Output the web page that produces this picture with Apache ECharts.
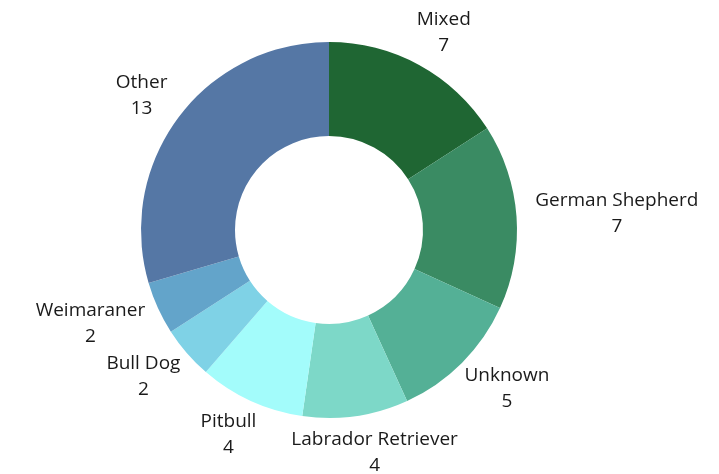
<!DOCTYPE html>
<html>
<head>
<meta charset="utf-8">
<style>
    html,body{margin:0;padding:0;background:#fff;}
    #chart{width:719px;height:474px;}
</style>
<script src="https://cdn.jsdelivr.net/npm/echarts@6/dist/echarts.min.js"></script>
</head>
<body>
<div id="chart"></div>
<script>
var breeds = ['Mixed', 'German Shepherd', 'Unknown', 'Labrador Retriever', 'Pitbull', 'Bull Dog', 'Weimaraner', 'Other'];
var counts = [7, 7, 5, 4, 4, 2, 2, 13];
var colors = ['#1f6633', '#3a8b63', '#54b096', '#7dd8c8', '#a3fcfb', '#7fd2e6', '#63a4ca', '#5577a5'];

(function() {
    var myChart = echarts.init(document.getElementById('chart'));
    var data = [];
    var total = 0;
    for (var i = 0; i < counts.length; i++) total += counts[i];
    // mid angle of each slice, clockwise from 12 o'clock
    var mids = [], acc = 0;
    for (var i = 0; i < breeds.length; i++) {
        data.push({name: breeds[i], value: counts[i], itemStyle: {color: colors[i]}});
        mids.push((acc + counts[i] / 2) / total * Math.PI * 2);
        acc += counts[i];
    }
    myChart.setOption({
        animation: false,
        series: [{
            type: 'pie',
            center: [329, 230],
            radius: [94, 188],
            startAngle: 90,
            clockwise: true,
            data: data,
            itemStyle: {borderWidth: 0},
            label: {
                show: true,
                position: 'outside',
                formatter: '{t|{b}}\n{t|{c}}',
                rich: {
                    t: {
                        fontFamily: 'Open Sans',
                        fontSize: 19,
                        color: '#1a1a1a',
                        lineHeight: 26,
                        align: 'center'
                    }
                }
            },
            labelLine: {show: false, length: 14, length2: 0},
            // push labels so they sit off the ring like the original (excel style)
            labelLayout: function(p) {
                var r = p.labelRect;
                var ux = Math.sin(mids[p.dataIndex]), uy = -Math.cos(mids[p.dataIndex]);
                var ax = ux >= 0 ? r.x : r.x + r.width;
                return {
                    x: ax + r.width / 2 * ux,
                    y: r.y + r.height / 2 + r.height / 2 * uy,
                    align: 'center',
                    verticalAlign: 'middle'
                };
            }
        }]
    });
})()
</script>
</body>
</html>
